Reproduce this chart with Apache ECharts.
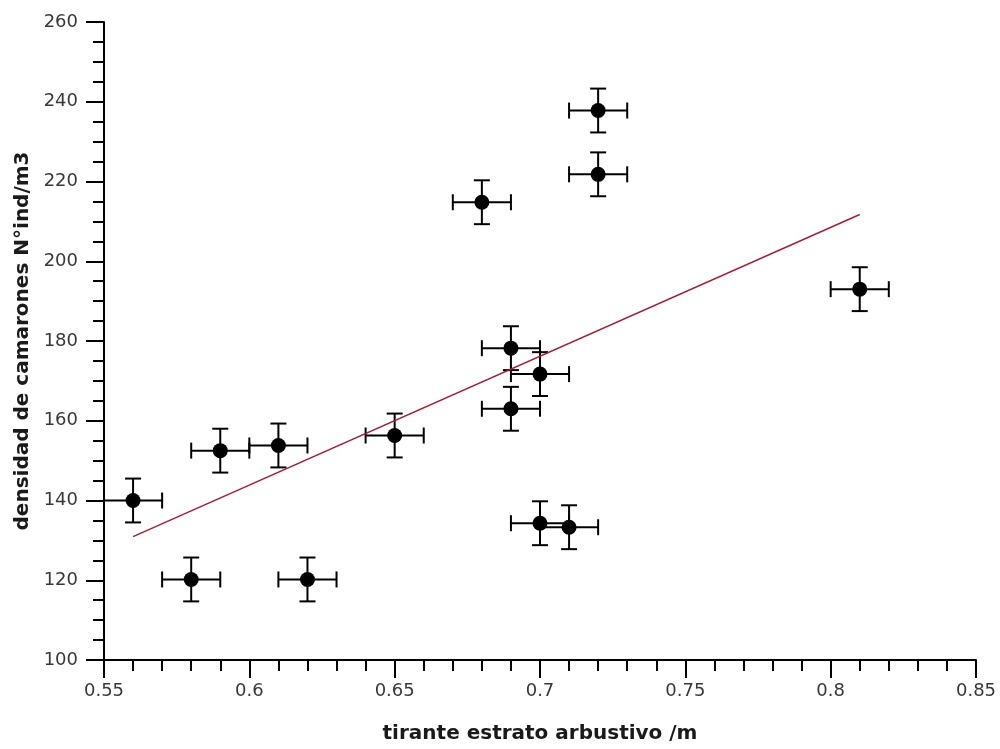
<!DOCTYPE html>
<html><head><meta charset="utf-8">
<script src="https://cdn.jsdelivr.net/npm/echarts@6/dist/echarts.min.js"></script>
<style>html,body{margin:0;padding:0;background:#fff}#c{width:1000px;height:749px}</style>
</head><body><div id="c"></div>
<script>
// tirante estrato arbustivo (m)
const xValues = [0.56, 0.58, 0.59, 0.61, 0.62, 0.65, 0.68, 0.69, 0.70, 0.69, 0.70, 0.71, 0.72, 0.72, 0.81];
// densidad de camarones (N°ind/m3)
const yValues = [140, 120.2, 152.5, 153.8, 120.2, 156.3, 214.8, 178.2, 171.7, 163, 134.3, 133.3, 237.8, 221.8, 193];
const xErr = [0.01, 0.01, 0.01, 0.01, 0.01, 0.01, 0.01, 0.01, 0.01, 0.01, 0.01, 0.01, 0.01, 0.01, 0.01];
const yErr = [5.5, 5.5, 5.5, 5.5, 5.5, 5.5, 5.5, 5.5, 5.5, 5.5, 5.5, 5.5, 5.5, 5.5, 5.5];
const xAxisName = 'tirante estrato arbustivo /m';
const yAxisName = 'densidad de camarones N°ind/m3';

// least-squares fit line
const n = xValues.length;
const mx = xValues.reduce((a, b) => a + b, 0) / n;
const my = yValues.reduce((a, b) => a + b, 0) / n;
let sxy = 0, sxx = 0;
for (let i = 0; i < n; i++) { sxy += (xValues[i] - mx) * (yValues[i] - my); sxx += (xValues[i] - mx) ** 2; }
const slope = sxy / sxx, icpt = my - slope * mx;
const xMin = Math.min(...xValues), xMax = Math.max(...xValues);
const fitData = [[xMin, icpt + slope * xMin], [xMax, icpt + slope * xMax]];

const pts = xValues.map((x, i) => [x, yValues[i]]);
const errData = xValues.map((x, i) => [x, yValues[i], xErr[i], yErr[i]]);

const FONT = 'DejaVu Sans';
const chart = echarts.init(document.getElementById('c'), null, {renderer: 'canvas'});
chart.setOption({
  animation: false,
  backgroundColor: '#fff',
  grid: {left: 104, right: 24, top: 22, bottom: 86},
  xAxis: {
    type: 'value', min: 0.55, max: 0.85, interval: 0.05,
    name: xAxisName, nameLocation: 'middle', nameGap: 64,
    nameTextStyle: {fontFamily: FONT, fontWeight: 'bold', fontSize: 20, color: '#1a1a1a'},
    axisLine: {show: true, onZero: false, lineStyle: {color: '#000', width: 2}},
    axisTick: {show: true, length: 18, lineStyle: {color: '#000', width: 2}},
    minorTick: {show: true, splitNumber: 5, length: 11, lineStyle: {color: '#000', width: 2}},
    splitLine: {show: false},
    axisLabel: {fontFamily: FONT, fontSize: 18, color: '#383838', margin: 22,
      formatter: v => String(+v.toFixed(2))}
  },
  yAxis: {
    type: 'value', min: 100, max: 260, interval: 20,
    name: yAxisName, nameLocation: 'middle', nameGap: 70,
    nameTextStyle: {fontFamily: FONT, fontWeight: 'bold', fontSize: 20, color: '#1a1a1a'},
    axisLine: {show: true, onZero: false, lineStyle: {color: '#000', width: 2}},
    axisTick: {show: true, length: 18, lineStyle: {color: '#000', width: 2}},
    minorTick: {show: true, splitNumber: 4, length: 11, lineStyle: {color: '#000', width: 2}},
    splitLine: {show: false},
    axisLabel: {fontFamily: FONT, fontSize: 18, color: '#383838', margin: 26}
  },
  series: [
    {
      type: 'custom', z: 2, data: errData, encode: {x: 0, y: 1},
      renderItem: function (params, api) {
        const x = api.value(0), y = api.value(1), ex = api.value(2), ey = api.value(3);
        const l = api.coord([x - ex, y]), r = api.coord([x + ex, y]);
        const t = api.coord([x, y + ey]), b = api.coord([x, y - ey]);
        const h = 8;
        const st = {stroke: '#000', lineWidth: 2};
        const ln = (x1, y1, x2, y2) => ({type: 'line', shape: {x1, y1, x2, y2}, style: st});
        return {type: 'group', children: [
          ln(l[0], l[1], r[0], r[1]),
          ln(t[0], t[1], b[0], b[1]),
          ln(l[0], l[1] - h, l[0], l[1] + h),
          ln(r[0], r[1] - h, r[0], r[1] + h),
          ln(t[0] - h, t[1], t[0] + h, t[1]),
          ln(b[0] - h, b[1], b[0] + h, b[1])
        ]};
      }
    },
    {
      type: 'line', z: 3, data: fitData, symbol: 'none',
      lineStyle: {color: '#9b2335', width: 1.5}
    },
    {
      type: 'scatter', z: 4, data: pts, symbol: 'circle', symbolSize: 15,
      itemStyle: {color: '#000', opacity: 1}
    }
  ]
});
</script>
</body></html>
